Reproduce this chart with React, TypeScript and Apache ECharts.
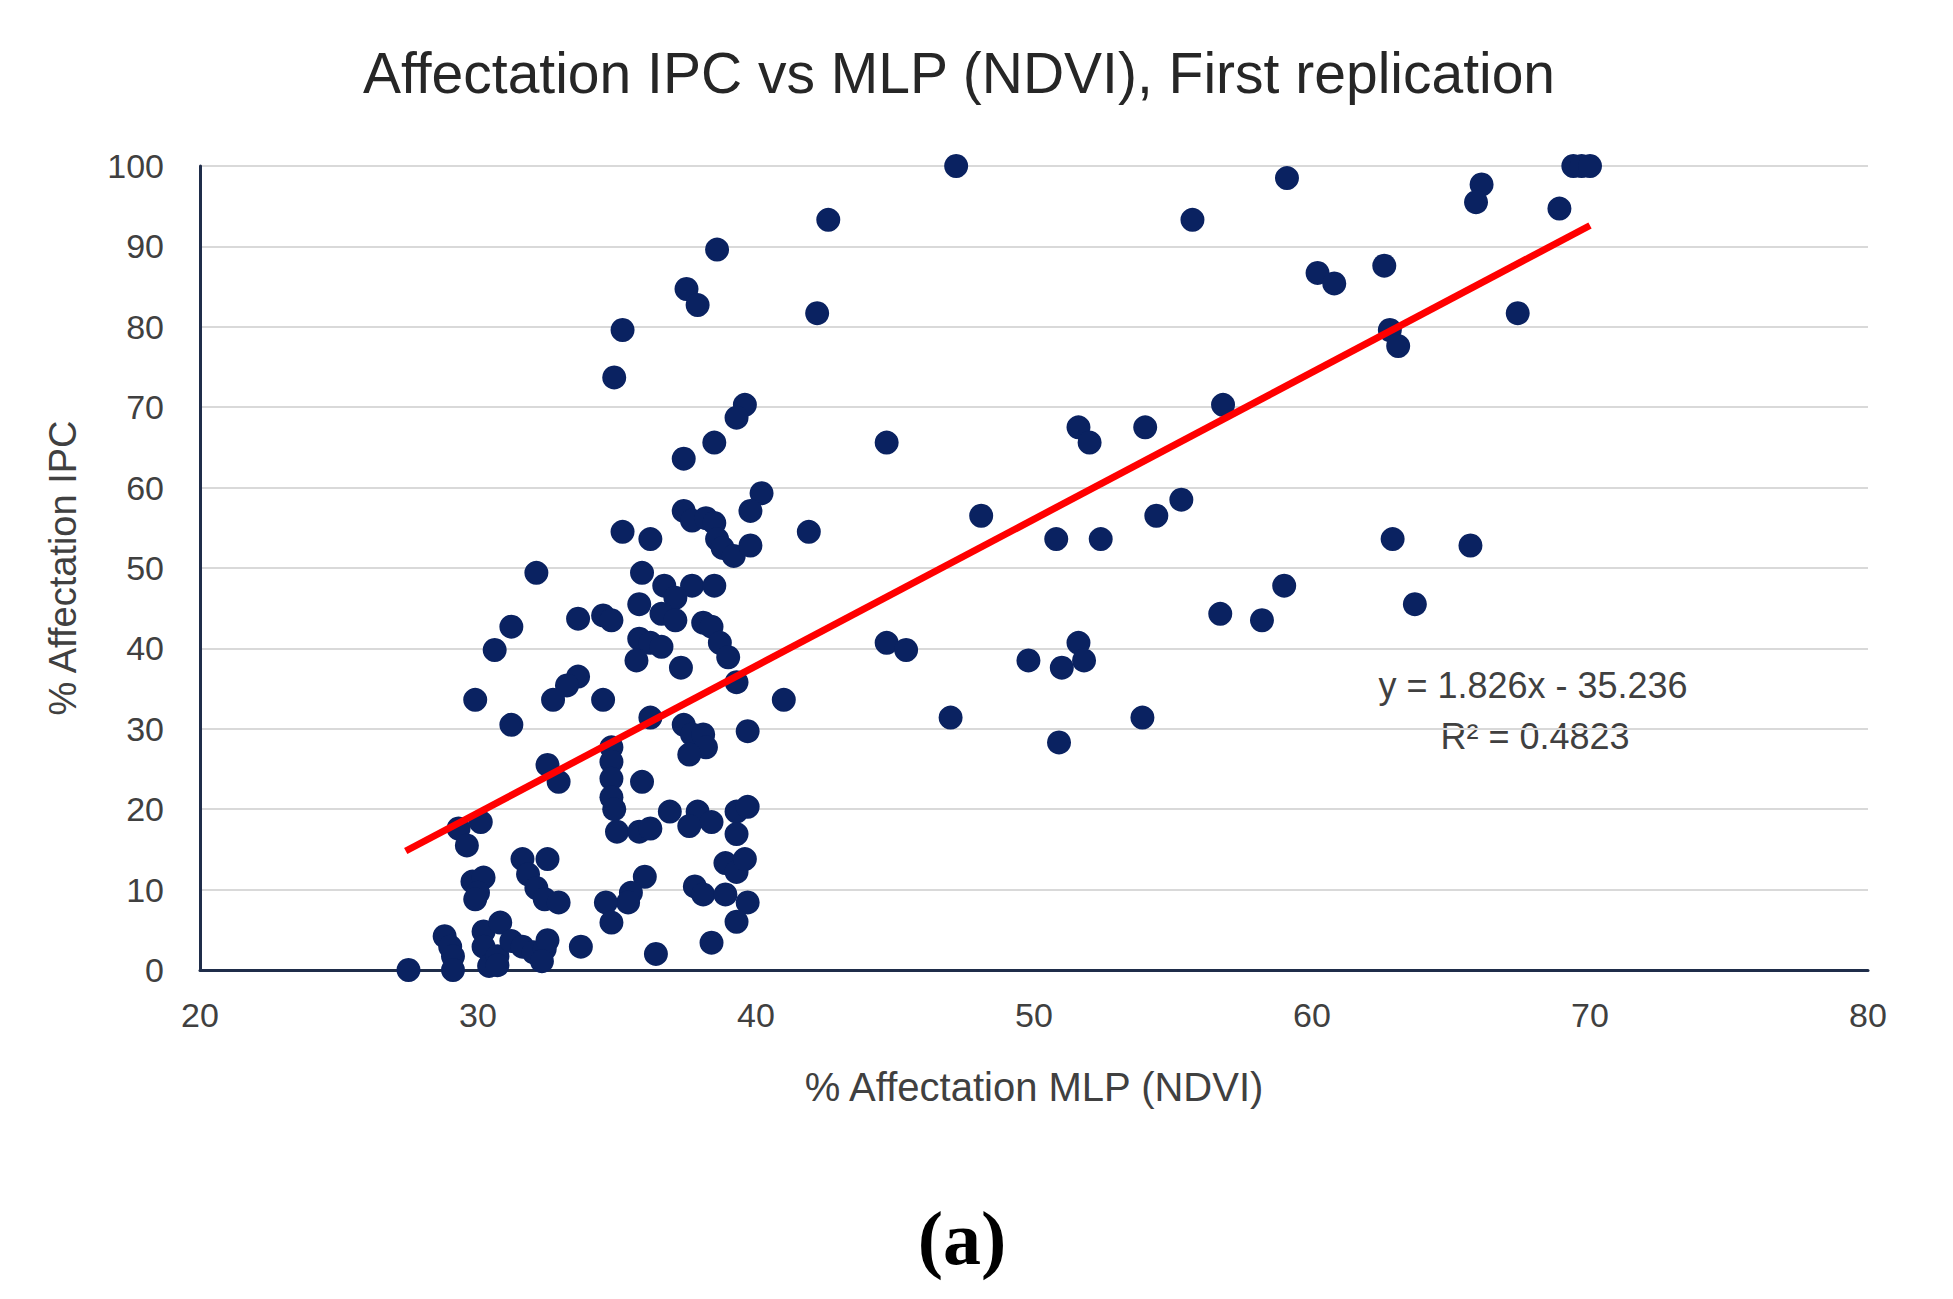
import React, { useEffect, useRef } from "react";
import * as echarts from "echarts";

const titleText = "Affectation IPC vs MLP (NDVI), First replication";
const xAxisName = "% Affectation MLP (NDVI)";
const yAxisName = "% Affectation IPC";
const equationText = "y = 1.826x - 35.236";
const r2Text = "R² = 0.4823";
const panelLabel = "(a)";

const xMin = 20;
const xMax = 80;
const xStep = 10;
const yMin = 0;
const yMax = 100;
const yStep = 10;

const points: [number, number][] = [
  [47.2, 100], [59.1, 98.5], [69.4, 100], [69.7, 100], [70.0, 100], [66.1, 97.7], [65.9, 95.5],
  [68.9, 94.7], [55.7, 93.3], [42.6, 93.3], [38.6, 89.6], [60.2, 86.7], [60.8, 85.4], [62.6, 87.6],
  [37.5, 84.7], [37.9, 82.7], [42.2, 81.7], [67.4, 81.7], [35.2, 79.6], [62.8, 79.6], [63.1, 77.6],
  [34.9, 73.7], [56.8, 70.3], [39.6, 70.3], [39.3, 68.7], [51.6, 67.5], [52.0, 65.6], [54.0, 67.5],
  [44.7, 65.6], [38.5, 65.6], [37.4, 63.6], [40.2, 59.3], [39.8, 57.1], [37.4, 57.1], [37.7, 55.9],
  [38.2, 56.2], [38.5, 55.6], [55.3, 58.5], [54.4, 56.5], [48.1, 56.5], [35.2, 54.5], [41.9, 54.5],
  [36.2, 53.6], [38.6, 53.6], [38.8, 52.5], [39.2, 51.5], [39.8, 52.8], [50.8, 53.6], [52.4, 53.6],
  [62.9, 53.6], [65.7, 52.8], [32.1, 49.4], [35.9, 49.4], [36.7, 47.8], [37.7, 47.8], [38.5, 47.8],
  [37.1, 46.3], [59.0, 47.8], [35.8, 45.5], [63.7, 45.5], [33.6, 43.7], [34.5, 44.1], [34.8, 43.5],
  [36.6, 44.3], [37.1, 43.5], [38.1, 43.2], [38.4, 42.7], [56.7, 44.3], [58.2, 43.5], [31.2, 42.7],
  [35.8, 41.2], [36.2, 40.7], [36.6, 40.2], [38.7, 40.7], [39.0, 38.9], [44.7, 40.7], [45.4, 39.8],
  [51.6, 40.7], [51.8, 38.5], [30.6, 39.8], [35.7, 38.5], [37.3, 37.6], [49.8, 38.5], [51.0, 37.6],
  [39.3, 35.8], [33.6, 36.5], [33.2, 35.4], [32.7, 33.6], [34.5, 33.6], [29.9, 33.6], [41.0, 33.6],
  [36.2, 31.4], [47.0, 31.4], [53.9, 31.4], [31.2, 30.5], [37.4, 30.5], [37.7, 29.3], [38.1, 29.3],
  [39.7, 29.7], [38.2, 27.7], [37.6, 26.8], [50.9, 28.3], [34.8, 27.7], [34.8, 25.9], [34.8, 23.8],
  [34.8, 21.5], [32.5, 25.5], [32.9, 23.4], [35.9, 23.4], [34.9, 20.0], [36.9, 19.7], [37.9, 19.7],
  [38.4, 18.4], [37.6, 17.9], [39.3, 19.7], [39.7, 20.3], [29.3, 17.6], [29.6, 15.5], [30.1, 18.4],
  [35.0, 17.2], [35.8, 17.2], [36.2, 17.6], [39.3, 16.9], [29.8, 11.0], [30.2, 11.5], [30.0, 9.6],
  [29.9, 8.8], [31.6, 13.8], [31.8, 11.9], [32.1, 10.2], [32.4, 8.8], [32.9, 8.4], [32.5, 13.8],
  [36.0, 11.6], [35.5, 9.6], [35.4, 8.4], [34.6, 8.4], [34.8, 5.9], [37.8, 10.4], [38.1, 9.4],
  [38.9, 13.3], [38.9, 9.4], [39.3, 12.2], [39.6, 13.8], [39.7, 8.4], [39.3, 6.0], [28.8, 4.2],
  [29.0, 2.9], [29.1, 1.7], [29.1, 0], [27.5, 0], [30.2, 4.8], [30.2, 2.9], [30.4, 0.5], [30.8, 5.9],
  [30.7, 1.7], [30.7, 0.6], [31.2, 3.6], [31.6, 2.9], [32.0, 2.2], [32.4, 2.6], [32.5, 3.7],
  [32.3, 1.1], [33.7, 2.9], [36.4, 2.0], [38.4, 3.4],
];

const trendLine: [number, number][] = [
  [27.4, 14.8],
  [70.0, 92.6],
];

export default function App() {
  const ref = useRef<HTMLDivElement>(null);
  useEffect(() => {
    if (!ref.current) return;
    const chart = echarts.init(ref.current, undefined, { renderer: "svg" });
    const sans = "'Liberation Sans', Arial, sans-serif";
    chart.setOption({
      animation: false,
      backgroundColor: "#ffffff",
      grid: { left: 200, right: 85, top: 166, bottom: 329, containLabel: false },
      xAxis: {
        type: "value",
        min: xMin,
        max: xMax,
        interval: xStep,
        name: xAxisName,
        nameLocation: "middle",
        nameGap: 97,
        nameTextStyle: { fontFamily: sans, fontSize: 40, color: "#404040" },
        axisLine: { show: true, lineStyle: { color: "#1f2d4a", width: 3 } },
        axisTick: { show: false },
        splitLine: { show: false },
        axisLabel: { fontFamily: sans, fontSize: 34, color: "#404040", margin: 28 },
      },
      yAxis: {
        type: "value",
        min: yMin,
        max: yMax,
        interval: yStep,
        name: yAxisName,
        nameLocation: "middle",
        nameGap: 118,
        nameTextStyle: { fontFamily: sans, fontSize: 38, color: "#404040" },
        axisLine: { show: true, lineStyle: { color: "#1f2d4a", width: 3 } },
        axisTick: { show: false },
        splitLine: { show: true, lineStyle: { color: "#d9d9d9", width: 2 } },
        axisLabel: { fontFamily: sans, fontSize: 34, color: "#404040", margin: 36 },
      },
      graphic: [
        {
          type: "text",
          x: 959,
          y: 73,
          style: {
            text: titleText,
            fontFamily: sans,
            fontSize: 57,
            fill: "#262626",
            align: "center",
            verticalAlign: "middle",
          },
        },
        {
          type: "text",
          x: 1533,
          y: 685,
          style: { text: equationText, fontFamily: sans, fontSize: 36, fill: "#404040", align: "center", verticalAlign: "middle" },
        },
        {
          type: "text",
          x: 1535,
          y: 736,
          style: { text: r2Text, fontFamily: sans, fontSize: 36, fill: "#404040", align: "center", verticalAlign: "middle" },
        },
        {
          type: "text",
          x: 962,
          y: 1238,
          style: {
            text: panelLabel,
            fontFamily: "'Liberation Serif', 'DejaVu Serif', serif",
            fontSize: 76,
            fontWeight: "bold",
            fill: "#000000",
            align: "center",
            verticalAlign: "middle",
          },
        },
      ],
      series: [
        {
          type: "scatter",
          data: points,
          symbol: "circle",
          symbolSize: 24,
          itemStyle: { color: "#0a2261", opacity: 1 },
          z: 2,
        },
        {
          type: "line",
          data: trendLine,
          symbol: "none",
          lineStyle: { color: "#ff0000", width: 7 },
          z: 3,
        },
      ],
    });
    return () => chart.dispose();
  }, []);
  return (
    <div
      ref={ref}
      style={{ position: "fixed", left: 0, top: 0, width: 1953, height: 1299, background: "#fff" }}
    />
  );
}
